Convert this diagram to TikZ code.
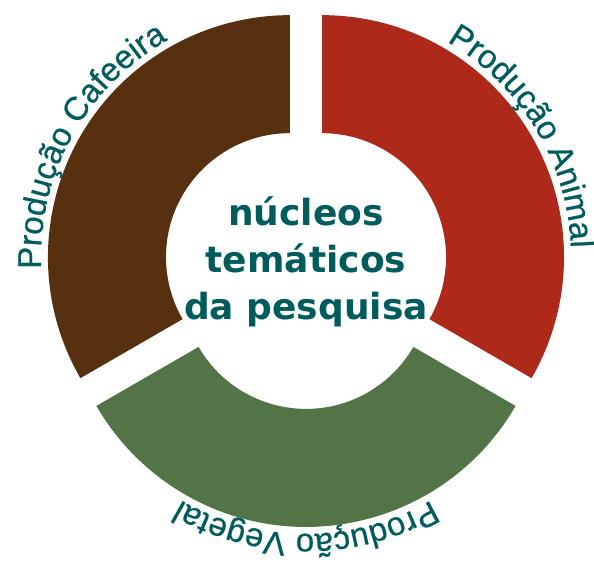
\documentclass[tikz,border=0pt]{standalone}
\usepackage{fontspec}
\setmainfont{DejaVu Sans}
\newfontfamily\labelfamily[FakeBold=0.6]{Liberation Sans}
\usetikzlibrary{decorations.text}

\definecolor{cafe}{HTML}{56300F}
\definecolor{animal}{HTML}{AD2A1B}
\definecolor{vegetal}{HTML}{527446}
\definecolor{tealtext}{HTML}{005C5C}

\newcommand{\labelfont}{\labelfamily\fontsize{33}{36}\selectfont}
\newcommand{\corefont}{\fontsize{36}{47}\selectfont\bfseries}

\begin{document}
\begin{tikzpicture}[x=1pt, y=1pt,
  curvedlabel/.style={decorate, decoration={text along path, text align=center,
    text color=tealtext, text={|\labelfont|#1}}}]
  \useasboundingbox (-306,-295.6) rectangle (288,266.4);

  % Produção Cafeeira (top left)
  \fill[cafe, shift={(150:18.5)}] (90:124) arc[start angle=90, end angle=210, radius=124]
    -- (210:242) arc[start angle=210, end angle=90, radius=242] -- cycle;
  \path[shift={(150:18.5)}, curvedlabel={Produção Cafeeira}] (207:249) arc[start angle=207, end angle=95, radius=249];

  % Produção Animal (top right)
  \fill[animal, shift={(30:18.5)}] (-30:124) arc[start angle=-30, end angle=90, radius=124]
    -- (90:242) arc[start angle=90, end angle=-30, radius=242] -- cycle;
  \path[shift={(30:18.5)}, curvedlabel={Produção Animal}] (87:249) arc[start angle=87, end angle=-25, radius=249];

  % Produção Vegetal (bottom)
  \fill[vegetal, shift={(270:18.5)}] (210:124) arc[start angle=210, end angle=330, radius=124]
    -- (330:242) arc[start angle=330, end angle=210, radius=242] -- cycle;
  \path[shift={(270:18.5)}, curvedlabel={Produção Vegetal}] (325:249) arc[start angle=325, end angle=215, radius=249];

  % Centre text
  \node[align=center, font=\corefont, text=tealtext] (core) at (0,5) {núcleos\\temáticos\\da pesquisa};
\end{tikzpicture}
\end{document}
